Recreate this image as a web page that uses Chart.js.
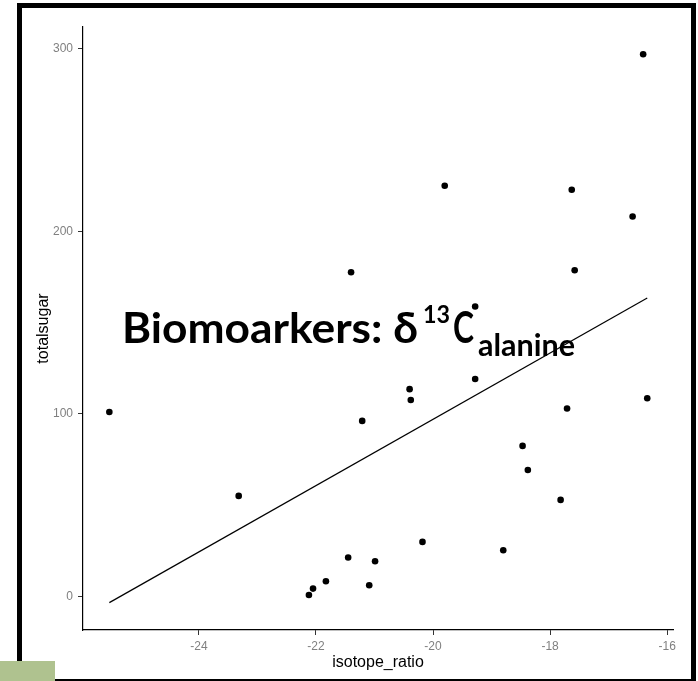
<!DOCTYPE html>
<html>
<head>
<meta charset="utf-8">
<script src="https://cdn.jsdelivr.net/npm/chart.js@4.4.1/dist/chart.umd.min.js"></script>
<style>
  html, body { margin: 0; padding: 0; background: #fff; }
  #wrap { position: relative; width: 698px; height: 681px; overflow: hidden; }
  #frame { position: absolute; left: 17px; top: 3px; width: 679px; height: 681px; border: 5px solid #000; box-sizing: border-box; }
  #tab { position: absolute; left: 0; top: 661px; width: 55px; height: 20px; background: #afc28f; }
  #chartBox { position: absolute; left: 0; top: 0; width: 698px; height: 681px; }
</style>
</head>
<body>
<div id="wrap">
  <div id="frame"></div>
  <div id="tab"></div>
  <div id="chartBox"><canvas id="chart"></canvas></div>
</div>
<script>
// values
const isotopeRatio = [-25.53, -23.32, -22.12, -22.05, -21.83, -21.45, -20.99, -21.09, -20.18, -18.80,
  -17.82, -18.38, -18.47, -17.71, -16.34, -21.21, -20.40, -20.38, -19.28, -16.41,
  -19.80, -17.63, -16.59, -17.58, -21.40, -19.28];
const totalSugar = [101, 55, 0.7, 4.2, 8.2, 21.2, 19.2, 6, 29.8, 25.2,
  52.8, 69.2, 82.4, 102.9, 108.5, 96.1, 113.5, 107.6, 119.1, 297.1,
  225, 222.8, 208.1, 178.7, 177.6, 158.8];

// fitted line ends
const fitX = [-25.53, -16.34];
const fitY = [-3.5, 163.5];

const xTicks = [-24, -22, -20, -18, -16];
const yTicks = [0, 100, 200, 300];

const points = isotopeRatio.map((x, i) => ({ x: x, y: totalSugar[i] }));
const fitLine = fitX.map((x, i) => ({ x: x, y: fitY[i] }));

const axisFont = { family: '"Liberation Sans", Arial, sans-serif', size: 12 };
const titleFont = { family: '"Liberation Sans", Arial, sans-serif', size: 16 };

// stretch or squeeze a piece of text to a given width
function fitText(ctx, text, x, y, width) {
  const w = ctx.measureText(text).width;
  ctx.save();
  ctx.translate(x, y);
  ctx.scale(width / w, 1);
  ctx.fillText(text, 0, 0);
  ctx.restore();
}

// label over the plot
const notePlugin = {
  id: 'note',
  afterDraw(chart) {
    const ctx = chart.ctx;
    const fam = 'Lato, "Open Sans", "DejaVu Sans", sans-serif';
    ctx.save();
    ctx.fillStyle = '#000';
    ctx.textBaseline = 'alphabetic';
    ctx.textAlign = 'left';
    ctx.font = 'bold 42px ' + fam;
    fitText(ctx, 'Biomoarkers: δ', 122, 343, 296);
    ctx.font = 'bold 24px ' + fam;
    fitText(ctx, '13', 423, 323, 27);
    ctx.font = 'bold 43px ' + fam;
    fitText(ctx, 'C', 453, 343, 21);
    ctx.font = 'bold 31px ' + fam;
    fitText(ctx, 'alanine', 478, 356, 97);
    ctx.restore();
  }
};

new Chart(document.getElementById('chart'), {
  type: 'scatter',
  data: {
    datasets: [
      {
        label: 'samples',
        data: points,
        backgroundColor: '#000',
        borderWidth: 0,
        pointRadius: 3.3,
      },
      {
        type: 'line',
        label: 'fit',
        data: fitLine,
        borderColor: '#000',
        borderWidth: 1.2,
        pointRadius: 0,
        fill: false,
      },
    ],
  },
  options: {
    responsive: true,
    maintainAspectRatio: false,
    animation: false,
    layout: { padding: { left: 0, top: 27, right: 25, bottom: 0 } },
    plugins: {
      legend: { display: false },
      tooltip: { enabled: false },
    },
    scales: {
      x: {
        type: 'linear',
        min: -25.98,
        max: -15.9,
        afterBuildTicks: (scale) => { scale.ticks = xTicks.map((v) => ({ value: v })); },
        afterFit: (scale) => { scale.height = 51; },
        grid: { drawOnChartArea: false, drawTicks: true, tickLength: 5, tickColor: '#333' },
        border: { display: true, color: '#000', width: 1.2 },
        ticks: { color: '#808080', font: axisFont, padding: 4, maxRotation: 0 },
        title: { display: true, text: 'isotope_ratio', color: '#000', font: titleFont, padding: { top: 0, bottom: 9 } },
      },
      y: {
        type: 'linear',
        min: -18.5,
        max: 312,
        afterBuildTicks: (scale) => { scale.ticks = yTicks.map((v) => ({ value: v })); },
        afterFit: (scale) => { scale.width = 83; },
        grid: { drawOnChartArea: false, drawTicks: true, tickLength: 5, tickColor: '#333' },
        border: { display: true, color: '#000', width: 1.2 },
        ticks: { color: '#808080', font: axisFont, padding: 5 },
        title: { display: true, text: 'totalsugar', color: '#000', font: titleFont, padding: { top: 34, bottom: 0 } },
      },
    },
  },
  plugins: [notePlugin],
});
</script>
</body>
</html>
